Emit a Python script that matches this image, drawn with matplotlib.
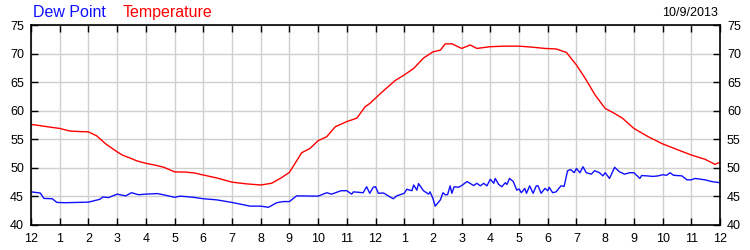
import matplotlib
matplotlib.use("Agg")
import matplotlib.pyplot as plt

# Temperature (red): hours since midnight, degrees F
temp_hours = [0, 0.3, 0.7, 1.0, 1.35, 1.7, 2.0, 2.29, 2.6, 3.0, 3.2, 3.46, 3.7, 4.0, 4.3, 4.63, 5.0, 5.4, 5.7, 6.0,
              6.5, 7.0, 7.5, 8.0, 8.38, 8.7, 9.0, 9.2, 9.43, 9.72, 10.0, 10.3, 10.6, 11.0, 11.35, 11.64, 11.81, 12.0,
              12.28, 12.69, 13.0, 13.33, 13.67, 14.0, 14.26, 14.43, 14.67, 15.0, 15.3, 15.53, 16.0, 16.5, 17.0,
              17.5, 17.9, 18.3, 18.65, 19.0, 19.3, 19.65, 20.0, 20.3, 20.6, 21.0, 21.5, 22.0, 22.56, 23.0, 23.48,
              23.83, 24.0]
temp_vals = [57.6, 57.4, 57.1, 56.9, 56.45, 56.35, 56.3, 55.6, 54.2, 52.8, 52.2, 51.7, 51.2, 50.8, 50.5, 50.1, 49.3,
             49.25, 49.1, 48.75, 48.2, 47.5, 47.2, 47.0, 47.3, 48.2, 49.2, 50.8, 52.65, 53.4, 54.75, 55.45, 57.2,
             58.1, 58.7, 60.7, 61.3, 62.2, 63.5, 65.3, 66.25, 67.4, 69.2, 70.3, 70.6, 71.7, 71.7, 70.9, 71.5,
             70.9, 71.2, 71.3, 71.3, 71.1, 70.9, 70.8, 70.2, 68.0, 65.7, 62.75, 60.4, 59.6, 58.7, 56.9, 55.45,
             54.2, 53.1, 52.25, 51.5, 50.6, 51.0]

# Dew point (blue)
dew_hours = [0, 0.32, 0.45, 0.74, 0.9, 1.2, 1.6, 2.0, 2.4, 2.5, 2.7, 3.0, 3.3, 3.5, 3.75, 4.0, 4.4, 4.6, 5.0, 5.2,
             5.65, 6.0, 6.47, 7.0, 7.63, 8.0, 8.27, 8.56, 8.79, 9.0, 9.25, 10.0, 10.3, 10.47, 10.8, 11.0, 11.17,
             11.23, 11.57, 11.69, 11.8, 11.92, 12.0, 12.1, 12.28, 12.51, 12.62, 12.74, 13.0, 13.09, 13.27, 13.33,
             13.44, 13.5, 13.67, 13.85, 13.9, 14.0, 14.08, 14.26, 14.35, 14.43, 14.51, 14.6, 14.66, 14.74, 14.89,
             15.0, 15.19, 15.42, 15.53, 15.65, 15.77, 15.88, 16.0, 16.12, 16.17, 16.29, 16.4, 16.52, 16.58,
             16.67, 16.8, 16.92, 17.0, 17.08, 17.2, 17.26, 17.37, 17.49, 17.6, 17.66, 17.77, 17.9, 18.0, 18.05,
             18.17, 18.29, 18.46, 18.57, 18.69, 18.8, 18.92, 19.0, 19.12, 19.23, 19.34, 19.52, 19.63, 19.8,
             19.92, 20.0, 20.15, 20.33, 20.5, 20.68, 20.85, 21.0, 21.21, 21.27, 21.44, 21.67, 21.85, 22.0, 22.14,
             22.26, 22.38, 22.67, 22.85, 23.0, 23.13, 23.48, 23.71, 24.0]
dew_vals = [45.8, 45.6, 44.65, 44.6, 43.95, 43.9, 43.95, 44.0, 44.5, 44.9, 44.8, 45.4, 45.1, 45.65, 45.3, 45.4, 45.5,
            45.3, 44.85, 45.05, 44.85, 44.6, 44.4, 43.95, 43.3, 43.3, 43.1, 43.9, 44.1, 44.1, 45.1, 45.05, 45.65,
            45.4, 46.0, 46.0, 45.4, 45.8, 45.65, 46.7, 45.55, 46.6, 46.7, 45.55, 45.6, 44.9, 44.6, 45.1, 45.55,
            46.25, 46.0, 47.0, 46.1, 47.25, 46.0, 45.4, 45.8, 44.65, 43.3, 44.4, 45.65, 45.3, 45.3, 46.85, 45.55,
            46.7, 46.6, 46.9, 47.6, 46.9, 47.3, 46.85, 47.3, 46.85, 48.0, 47.3, 48.15, 47.1, 46.7, 47.4, 47.1,
            48.15, 47.6, 46.1, 46.3, 45.65, 46.4, 45.55, 46.85, 45.55, 46.85, 46.85, 45.55, 46.4, 46.0, 46.6,
            45.65, 45.8, 46.85, 46.75, 49.5, 49.7, 49.15, 49.9, 49.15, 50.2, 49.15, 48.9, 49.5, 49.15, 48.6,
            49.15, 48.15, 50.1, 49.3, 48.9, 49.15, 49.15, 48.15, 48.65, 48.6, 48.5, 48.6, 48.8, 48.7, 49.15,
            48.7, 48.6, 47.9, 47.9, 48.15, 47.9, 47.6, 47.4]

x_ticks = list(range(0, 25))
x_tick_labels = ["12", "1", "2", "3", "4", "5", "6", "7", "8", "9", "10", "11",
                 "12", "1", "2", "3", "4", "5", "6", "7", "8", "9", "10", "11", "12"]
y_ticks = [40, 45, 50, 55, 60, 65, 70, 75]

plt.rcParams['font.family'] = ['Liberation Sans', 'DejaVu Sans']

fig = plt.figure(figsize=(7.5, 2.5), dpi=100)
ax = fig.add_axes([31 / 750, 25 / 250, 689 / 750, 200 / 250])

ax.plot(dew_hours, dew_vals, color='#1010ff', lw=1.0)
ax.plot(temp_hours, temp_vals, color='#ff0000', lw=1.0)

ax.set_xlim(0, 24)
ax.set_ylim(40, 75)
ax.set_xticks(x_ticks)
ax.set_xticklabels(x_tick_labels)
ax.set_yticks(y_ticks)
ax.grid(True, color='#d0d0d0', lw=1.0)
ax.set_axisbelow(True)
ax.tick_params(direction='in', length=5, width=1, color='black', labelsize=9,
               top=True, right=True, labelright=True, pad=5)
ax.tick_params(axis='x', pad=6)
for s in ax.spines.values():
    s.set_linewidth(1.2)
    s.set_color('black')

fig.text(33 / 750, 1 - 17 / 250, "Dew Point", color='#1010ff', fontsize=11.5, va='baseline', ha='left')
fig.text(123 / 750, 1 - 17 / 250, "Temperature", color='#ff0000', fontsize=11.5, va='baseline', ha='left')
fig.text(718 / 750, 1 - 16 / 250, "10/9/2013", color='black', fontsize=9, va='baseline', ha='right')

fig.savefig("out.png", dpi=100)
